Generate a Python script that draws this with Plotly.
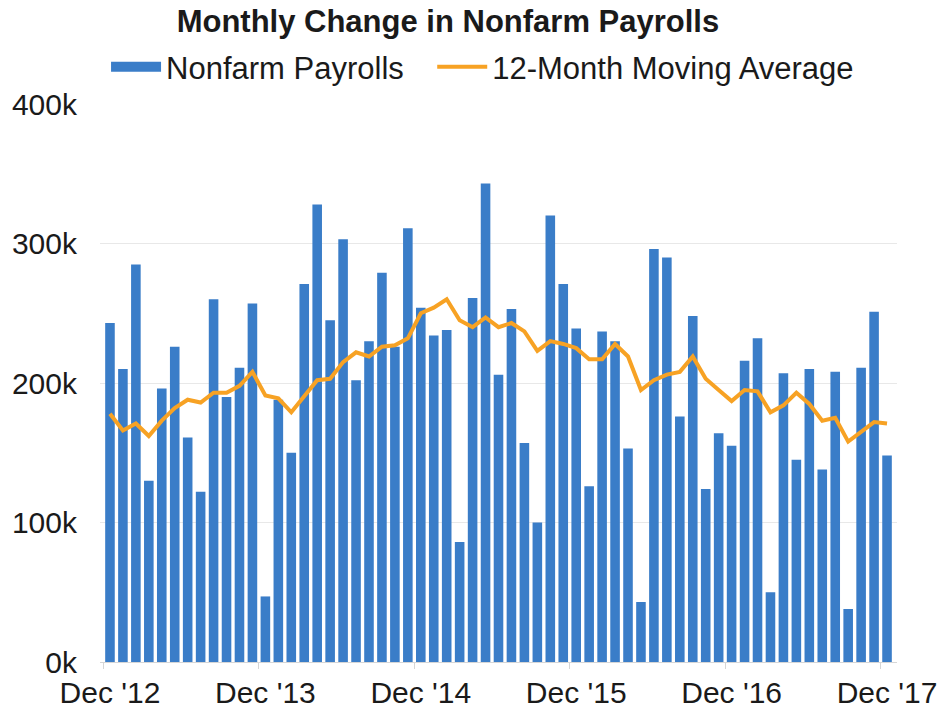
import plotly.graph_objects as go

# ---- data (thousands of jobs) ----
months = list(range(61))  # Dec 2012 .. Dec 2017
payrolls = [243, 210, 285, 130, 196, 226, 161, 122, 260, 190, 211, 257,
            47, 188, 150, 271, 328, 245, 303, 202, 230, 279, 226, 311,
            254, 234, 238, 86, 261, 343, 206, 253, 157, 100, 320, 271,
            239, 126, 237, 230, 153, 43, 296, 290, 176, 248, 124, 164,
            155, 216, 232, 50, 207, 145, 210, 138, 208, 38, 211, 251,
            148]
moving_avg = [178, 166, 171, 162, 173, 182, 188, 186, 193, 193, 198, 208,
              191, 189, 179, 190, 202, 203, 215, 222, 219, 226, 227, 232,
              250, 254, 260, 245, 240, 247, 240, 243, 237, 223, 230, 228,
              225, 217, 217, 228, 219, 195, 202, 206, 208, 219, 203, 195,
              187, 195, 194, 179, 184, 193, 185, 173, 175, 158, 165, 172,
              171]
x_tick_pos = [0, 12, 24, 36, 48, 60]
x_tick_text = ["Dec '12", "Dec '13", "Dec '14", "Dec '15", "Dec '16", "Dec '17"]
y_tick_vals = [0, 100000, 200000, 300000, 400000]
y_tick_text = ["0k", "100k", "200k", "300k", "400k"]

FONT = "Liberation Sans, Arial, sans-serif"
BLUE = "#3A7DC8"
ORANGE = "#F7A224"

fig = go.Figure()
fig.add_trace(go.Bar(
    x=months, y=[v * 1000 for v in payrolls], name="Nonfarm Payrolls",
    marker=dict(color=BLUE, line=dict(width=0)), width=0.74,
    legendgroup="nfp", showlegend=False,
))
# legend key for the bars (wide blue swatch like the reference)
fig.add_trace(go.Scatter(
    x=[None], y=[None], name="Nonfarm Payrolls\u00a0\u00a0\u2009", mode="lines",
    line=dict(color=BLUE, width=15), legendgroup="nfp", showlegend=True,
))
fig.add_trace(go.Scatter(
    x=months, y=[v * 1000 for v in moving_avg], name="12-Month Moving Average",
    mode="lines", line=dict(color=ORANGE, width=4),
))

fig.update_layout(
    width=941, height=714,
    margin=dict(l=100, r=44, t=104, b=52, autoexpand=False),
    paper_bgcolor="white", plot_bgcolor="white",
    font=dict(family=FONT, size=30, color="#1a1a1a"),
    title=dict(text="<b>Monthly Change in Nonfarm Payrolls</b>",
               x=0.476, xref="container", xanchor="center",
               y=1 - 21 / 714, yref="container", yanchor="middle",
               font=dict(family=FONT, size=31, color="#1a1a1a")),
    legend=dict(orientation="h", x=0.1127, xref="container", xanchor="left",
                y=1 - 67 / 714, yref="container", yanchor="middle",
                font=dict(family=FONT, size=31, color="#1a1a1a"),
                itemwidth=50, tracegroupgap=0, bgcolor="rgba(0,0,0,0)"),
    showlegend=True,
)
fig.update_xaxes(
    range=[-0.77, 60.77],
    tickmode="array", tickvals=x_tick_pos, ticktext=x_tick_text,
    ticks="", showgrid=False, zeroline=False,
    showline=True, linecolor="#D6D6D6", linewidth=1,
    ticklabelstandoff=4,
    minor=dict(tickmode="array", tickvals=[p - 0.5 for p in x_tick_pos],
               ticks="outside", ticklen=6, tickcolor="#D6D6D6", showgrid=False),
    tickfont=dict(family=FONT, size=30, color="#1a1a1a"),
)
fig.update_yaxes(
    range=[0, 400000],
    tickmode="array", tickvals=y_tick_vals, ticktext=y_tick_text,
    ticks="", showgrid=True, gridcolor="#E8E8E8", gridwidth=1,
    zeroline=False, showline=False,
    ticklabelstandoff=22,
    tickfont=dict(family=FONT, size=30, color="#1a1a1a"),
)

fig.write_html("out.html", config={"displayModeBar": False},
               post_script="document.body.style.margin='0';")
